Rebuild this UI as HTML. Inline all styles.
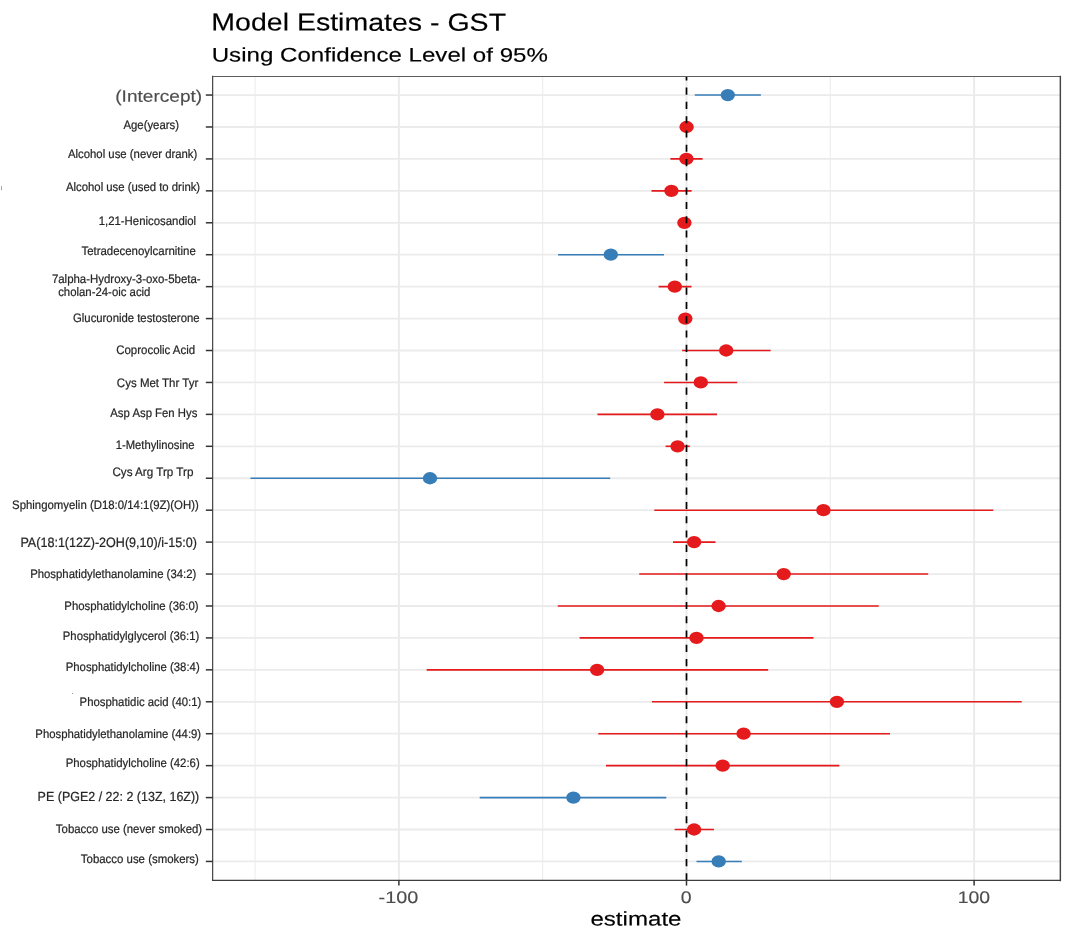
<!DOCTYPE html>
<html><head><meta charset="utf-8"><title>Model Estimates - GST</title>
<style>html,body{margin:0;padding:0;background:#fff;}svg{display:block;filter:blur(0.45px)}text{font-family:"Liberation Sans",sans-serif;text-rendering:geometricPrecision;}</style></head><body>
<svg width="1083" height="938" viewBox="0 0 1083 938">
<rect width="1083" height="938" fill="#fff"/>
<rect x="1.1" y="186.2" width="0.9" height="4" fill="#9a9a9a"/><rect x="72" y="693" width="1" height="1" fill="#999"/>
<g stroke="#ebebeb" fill="none">
<line x1="255.1" y1="76.45" x2="255.1" y2="880.46" stroke-width="1.0"/>
<line x1="542.7" y1="76.45" x2="542.7" y2="880.46" stroke-width="1.0"/>
<line x1="830.3" y1="76.45" x2="830.3" y2="880.46" stroke-width="1.0"/>
<line x1="398.9" y1="76.45" x2="398.9" y2="880.46" stroke-width="2.0"/>
<line x1="686.5" y1="76.45" x2="686.5" y2="880.46" stroke-width="2.0"/>
<line x1="974.1" y1="76.45" x2="974.1" y2="880.46" stroke-width="2.0"/>
<line x1="212.63" y1="95.05" x2="1060.35" y2="95.05" stroke-width="1.8"/>
<line x1="212.63" y1="126.98" x2="1060.35" y2="126.98" stroke-width="1.8"/>
<line x1="212.63" y1="158.92" x2="1060.35" y2="158.92" stroke-width="1.8"/>
<line x1="212.63" y1="190.85" x2="1060.35" y2="190.85" stroke-width="1.8"/>
<line x1="212.63" y1="222.78" x2="1060.35" y2="222.78" stroke-width="1.8"/>
<line x1="212.63" y1="254.71" x2="1060.35" y2="254.71" stroke-width="1.8"/>
<line x1="212.63" y1="286.65" x2="1060.35" y2="286.65" stroke-width="1.8"/>
<line x1="212.63" y1="318.58" x2="1060.35" y2="318.58" stroke-width="1.8"/>
<line x1="212.63" y1="350.51" x2="1060.35" y2="350.51" stroke-width="1.8"/>
<line x1="212.63" y1="382.45" x2="1060.35" y2="382.45" stroke-width="1.8"/>
<line x1="212.63" y1="414.38" x2="1060.35" y2="414.38" stroke-width="1.8"/>
<line x1="212.63" y1="446.31" x2="1060.35" y2="446.31" stroke-width="1.8"/>
<line x1="212.63" y1="478.25" x2="1060.35" y2="478.25" stroke-width="1.8"/>
<line x1="212.63" y1="510.18" x2="1060.35" y2="510.18" stroke-width="1.8"/>
<line x1="212.63" y1="542.11" x2="1060.35" y2="542.11" stroke-width="1.8"/>
<line x1="212.63" y1="574.04" x2="1060.35" y2="574.04" stroke-width="1.8"/>
<line x1="212.63" y1="605.98" x2="1060.35" y2="605.98" stroke-width="1.8"/>
<line x1="212.63" y1="637.91" x2="1060.35" y2="637.91" stroke-width="1.8"/>
<line x1="212.63" y1="669.84" x2="1060.35" y2="669.84" stroke-width="1.8"/>
<line x1="212.63" y1="701.78" x2="1060.35" y2="701.78" stroke-width="1.8"/>
<line x1="212.63" y1="733.71" x2="1060.35" y2="733.71" stroke-width="1.8"/>
<line x1="212.63" y1="765.64" x2="1060.35" y2="765.64" stroke-width="1.8"/>
<line x1="212.63" y1="797.58" x2="1060.35" y2="797.58" stroke-width="1.8"/>
<line x1="212.63" y1="829.51" x2="1060.35" y2="829.51" stroke-width="1.8"/>
<line x1="212.63" y1="861.44" x2="1060.35" y2="861.44" stroke-width="1.8"/>
</g>
<line x1="694.8" y1="95.05" x2="760.9" y2="95.05" stroke="#377EB8" stroke-width="1.6"/>
<ellipse cx="727.8" cy="95.05" rx="7.2" ry="6.15" fill="#377EB8"/>
<ellipse cx="686.6" cy="126.98" rx="7.2" ry="6.15" fill="#E41A1C"/>
<line x1="670.4" y1="158.92" x2="702.6" y2="158.92" stroke="#E41A1C" stroke-width="1.6"/>
<ellipse cx="686.4" cy="158.92" rx="7.2" ry="6.15" fill="#E41A1C"/>
<line x1="651.5" y1="190.85" x2="691.6" y2="190.85" stroke="#E41A1C" stroke-width="1.6"/>
<ellipse cx="671.4" cy="190.85" rx="7.2" ry="6.15" fill="#E41A1C"/>
<ellipse cx="684.4" cy="222.78" rx="7.2" ry="6.15" fill="#E41A1C"/>
<line x1="558.1" y1="254.71" x2="664.0" y2="254.71" stroke="#377EB8" stroke-width="1.6"/>
<ellipse cx="610.8" cy="254.71" rx="7.2" ry="6.15" fill="#377EB8"/>
<line x1="658.6" y1="286.65" x2="691.5" y2="286.65" stroke="#E41A1C" stroke-width="1.6"/>
<ellipse cx="674.8" cy="286.65" rx="7.2" ry="6.15" fill="#E41A1C"/>
<ellipse cx="685.3" cy="318.58" rx="7.2" ry="6.15" fill="#E41A1C"/>
<line x1="682.1" y1="350.51" x2="770.6" y2="350.51" stroke="#E41A1C" stroke-width="1.6"/>
<ellipse cx="726.2" cy="350.51" rx="7.2" ry="6.15" fill="#E41A1C"/>
<line x1="664.1" y1="382.45" x2="737.2" y2="382.45" stroke="#E41A1C" stroke-width="1.6"/>
<ellipse cx="700.8" cy="382.45" rx="7.2" ry="6.15" fill="#E41A1C"/>
<line x1="597.5" y1="414.38" x2="717.0" y2="414.38" stroke="#E41A1C" stroke-width="1.6"/>
<ellipse cx="657.4" cy="414.38" rx="7.2" ry="6.15" fill="#E41A1C"/>
<line x1="665.6" y1="446.31" x2="689.7" y2="446.31" stroke="#E41A1C" stroke-width="1.6"/>
<ellipse cx="677.6" cy="446.31" rx="7.2" ry="6.15" fill="#E41A1C"/>
<line x1="250.5" y1="478.25" x2="610.2" y2="478.25" stroke="#377EB8" stroke-width="1.6"/>
<ellipse cx="430.0" cy="478.25" rx="7.2" ry="6.15" fill="#377EB8"/>
<line x1="654.3" y1="510.18" x2="993.3" y2="510.18" stroke="#E41A1C" stroke-width="1.6"/>
<ellipse cx="823.4" cy="510.18" rx="7.2" ry="6.15" fill="#E41A1C"/>
<line x1="673.0" y1="542.11" x2="715.5" y2="542.11" stroke="#E41A1C" stroke-width="1.6"/>
<ellipse cx="694.1" cy="542.11" rx="7.2" ry="6.15" fill="#E41A1C"/>
<line x1="639.2" y1="574.04" x2="928.2" y2="574.04" stroke="#E41A1C" stroke-width="1.6"/>
<ellipse cx="783.7" cy="574.04" rx="7.2" ry="6.15" fill="#E41A1C"/>
<line x1="557.8" y1="605.98" x2="878.7" y2="605.98" stroke="#E41A1C" stroke-width="1.6"/>
<ellipse cx="718.6" cy="605.98" rx="7.2" ry="6.15" fill="#E41A1C"/>
<line x1="579.6" y1="637.91" x2="813.5" y2="637.91" stroke="#E41A1C" stroke-width="1.6"/>
<ellipse cx="696.5" cy="637.91" rx="7.2" ry="6.15" fill="#E41A1C"/>
<line x1="426.7" y1="669.84" x2="768.2" y2="669.84" stroke="#E41A1C" stroke-width="1.6"/>
<ellipse cx="597.1" cy="669.84" rx="7.2" ry="6.15" fill="#E41A1C"/>
<line x1="651.9" y1="701.78" x2="1021.7" y2="701.78" stroke="#E41A1C" stroke-width="1.6"/>
<ellipse cx="836.9" cy="701.78" rx="7.2" ry="6.15" fill="#E41A1C"/>
<line x1="598.3" y1="733.71" x2="890.0" y2="733.71" stroke="#E41A1C" stroke-width="1.6"/>
<ellipse cx="743.6" cy="733.71" rx="7.2" ry="6.15" fill="#E41A1C"/>
<line x1="606.0" y1="765.64" x2="839.4" y2="765.64" stroke="#E41A1C" stroke-width="1.6"/>
<ellipse cx="722.7" cy="765.64" rx="7.2" ry="6.15" fill="#E41A1C"/>
<line x1="479.7" y1="797.58" x2="666.3" y2="797.58" stroke="#377EB8" stroke-width="1.6"/>
<ellipse cx="573.4" cy="797.58" rx="7.2" ry="6.15" fill="#377EB8"/>
<line x1="674.7" y1="829.51" x2="714.0" y2="829.51" stroke="#E41A1C" stroke-width="1.6"/>
<ellipse cx="694.1" cy="829.51" rx="7.2" ry="6.15" fill="#E41A1C"/>
<line x1="696.5" y1="861.44" x2="741.8" y2="861.44" stroke="#377EB8" stroke-width="1.6"/>
<ellipse cx="718.7" cy="861.44" rx="7.2" ry="6.15" fill="#377EB8"/>
<line x1="686.5" y1="880.46" x2="686.5" y2="76.45" stroke="#000" stroke-width="1.7" stroke-dasharray="7.143 7.143"/>
<g fill="none" stroke-linecap="square"><line x1="212.63" y1="76.45" x2="1060.35" y2="76.45" stroke="#5e5e5e" stroke-width="1.05"/><line x1="212.63" y1="76.45" x2="212.63" y2="880.46" stroke="#4c4c4c" stroke-width="1.25"/><line x1="212.63" y1="880.46" x2="1060.35" y2="880.46" stroke="#3e3e3e" stroke-width="1.3"/><line x1="1060.35" y1="76.45" x2="1060.35" y2="880.46" stroke="#444" stroke-width="1.45"/></g>
<g stroke="#333" stroke-width="1.5">
<line x1="205.83" y1="95.05" x2="212.63" y2="95.05"/>
<line x1="205.83" y1="126.98" x2="212.63" y2="126.98"/>
<line x1="205.83" y1="158.92" x2="212.63" y2="158.92"/>
<line x1="205.83" y1="190.85" x2="212.63" y2="190.85"/>
<line x1="205.83" y1="222.78" x2="212.63" y2="222.78"/>
<line x1="205.83" y1="254.71" x2="212.63" y2="254.71"/>
<line x1="205.83" y1="286.65" x2="212.63" y2="286.65"/>
<line x1="205.83" y1="318.58" x2="212.63" y2="318.58"/>
<line x1="205.83" y1="350.51" x2="212.63" y2="350.51"/>
<line x1="205.83" y1="382.45" x2="212.63" y2="382.45"/>
<line x1="205.83" y1="414.38" x2="212.63" y2="414.38"/>
<line x1="205.83" y1="446.31" x2="212.63" y2="446.31"/>
<line x1="205.83" y1="478.25" x2="212.63" y2="478.25"/>
<line x1="205.83" y1="510.18" x2="212.63" y2="510.18"/>
<line x1="205.83" y1="542.11" x2="212.63" y2="542.11"/>
<line x1="205.83" y1="574.04" x2="212.63" y2="574.04"/>
<line x1="205.83" y1="605.98" x2="212.63" y2="605.98"/>
<line x1="205.83" y1="637.91" x2="212.63" y2="637.91"/>
<line x1="205.83" y1="669.84" x2="212.63" y2="669.84"/>
<line x1="205.83" y1="701.78" x2="212.63" y2="701.78"/>
<line x1="205.83" y1="733.71" x2="212.63" y2="733.71"/>
<line x1="205.83" y1="765.64" x2="212.63" y2="765.64"/>
<line x1="205.83" y1="797.58" x2="212.63" y2="797.58"/>
<line x1="205.83" y1="829.51" x2="212.63" y2="829.51"/>
<line x1="205.83" y1="861.44" x2="212.63" y2="861.44"/>
<line x1="398.9" y1="880.46" x2="398.9" y2="885.56"/>
<line x1="686.5" y1="880.46" x2="686.5" y2="885.56"/>
<line x1="974.1" y1="880.46" x2="974.1" y2="885.56"/>
</g>
<g>
<text transform="matrix(1 0.0005 0 1 115.25 101.80)" font-size="16.5" fill="#4d4d4d" stroke="#4d4d4d" stroke-width="0.15" textLength="86.92" lengthAdjust="spacingAndGlyphs">(Intercept)</text>
<text transform="matrix(1 0.0005 0 1 123.43 129.00)" font-size="12.3" fill="#262626" stroke="#262626" stroke-width="0.22" textLength="55.54" lengthAdjust="spacingAndGlyphs">Age(years)</text>
<text transform="matrix(1 0.0005 0 1 67.98 158.30)" font-size="12.3" fill="#262626" stroke="#262626" stroke-width="0.22" textLength="129.32" lengthAdjust="spacingAndGlyphs">Alcohol use (never drank)</text>
<text transform="matrix(1 0.0005 0 1 66.00 191.00)" font-size="12.3" fill="#262626" stroke="#262626" stroke-width="0.22" textLength="134.15" lengthAdjust="spacingAndGlyphs">Alcohol use (used to drink)</text>
<text transform="matrix(1 0.0005 0 1 98.68 225.00)" font-size="12.3" fill="#262626" stroke="#262626" stroke-width="0.22" textLength="97.42" lengthAdjust="spacingAndGlyphs">1,21-Henicosandiol</text>
<text transform="matrix(1 0.0005 0 1 81.42 255.10)" font-size="12.3" fill="#262626" stroke="#262626" stroke-width="0.22" textLength="114.35" lengthAdjust="spacingAndGlyphs">Tetradecenoylcarnitine</text>
<text transform="matrix(1 0.0005 0 1 51.90 282.50)" font-size="12.3" fill="#262626" stroke="#262626" stroke-width="0.22" textLength="148.70" lengthAdjust="spacingAndGlyphs">7alpha-Hydroxy-3-oxo-5beta-</text>
<text transform="matrix(1 0.0005 0 1 58.15 295.50)" font-size="12.3" fill="#262626" stroke="#262626" stroke-width="0.22" textLength="92.30" lengthAdjust="spacingAndGlyphs">cholan-24-oic acid</text>
<text transform="matrix(1 0.0005 0 1 73.01 321.50)" font-size="12.3" fill="#262626" stroke="#262626" stroke-width="0.22" textLength="126.53" lengthAdjust="spacingAndGlyphs">Glucuronide testosterone</text>
<text transform="matrix(1 0.0005 0 1 116.21 353.60)" font-size="12.3" fill="#262626" stroke="#262626" stroke-width="0.22" textLength="78.94" lengthAdjust="spacingAndGlyphs">Coprocolic Acid</text>
<text transform="matrix(1 0.0005 0 1 116.86 386.60)" font-size="12.3" fill="#262626" stroke="#262626" stroke-width="0.22" textLength="81.44" lengthAdjust="spacingAndGlyphs">Cys Met Thr Tyr</text>
<text transform="matrix(1 0.0005 0 1 110.30 417.40)" font-size="12.3" fill="#262626" stroke="#262626" stroke-width="0.22" textLength="87.09" lengthAdjust="spacingAndGlyphs">Asp Asp Fen Hys</text>
<text transform="matrix(1 0.0005 0 1 115.66 448.50)" font-size="12.3" fill="#262626" stroke="#262626" stroke-width="0.22" textLength="78.75" lengthAdjust="spacingAndGlyphs">1-Methylinosine</text>
<text transform="matrix(1 0.0005 0 1 112.40 476.00)" font-size="12.3" fill="#262626" stroke="#262626" stroke-width="0.22" textLength="81.02" lengthAdjust="spacingAndGlyphs">Cys Arg Trp Trp</text>
<text transform="matrix(1 0.0005 0 1 12.03 508.50)" font-size="12.3" fill="#262626" stroke="#262626" stroke-width="0.22" textLength="186.72" lengthAdjust="spacingAndGlyphs">Sphingomyelin (D18:0/14:1(9Z)(OH))</text>
<text transform="matrix(1 0.0005 0 1 20.39 547.10)" font-size="13.6" fill="#262626" stroke="#262626" stroke-width="0.22" textLength="176.49" lengthAdjust="spacingAndGlyphs">PA(18:1(12Z)-2OH(9,10)/i-15:0)</text>
<text transform="matrix(1 0.0005 0 1 30.14 578.20)" font-size="12.3" fill="#262626" stroke="#262626" stroke-width="0.22" textLength="166.18" lengthAdjust="spacingAndGlyphs">Phosphatidylethanolamine (34:2)</text>
<text transform="matrix(1 0.0005 0 1 64.31 609.80)" font-size="12.3" fill="#262626" stroke="#262626" stroke-width="0.22" textLength="134.30" lengthAdjust="spacingAndGlyphs">Phosphatidylcholine (36:0)</text>
<text transform="matrix(1 0.0005 0 1 62.79 640.40)" font-size="12.3" fill="#262626" stroke="#262626" stroke-width="0.22" textLength="136.53" lengthAdjust="spacingAndGlyphs">Phosphatidylglycerol (36:1)</text>
<text transform="matrix(1 0.0005 0 1 65.68 671.30)" font-size="12.3" fill="#262626" stroke="#262626" stroke-width="0.22" textLength="134.02" lengthAdjust="spacingAndGlyphs">Phosphatidylcholine (38:4)</text>
<text transform="matrix(1 0.0005 0 1 79.62 706.20)" font-size="12.3" fill="#262626" stroke="#262626" stroke-width="0.22" textLength="121.72" lengthAdjust="spacingAndGlyphs">Phosphatidic acid (40:1)</text>
<text transform="matrix(1 0.0005 0 1 35.32 737.50)" font-size="12.3" fill="#262626" stroke="#262626" stroke-width="0.22" textLength="165.84" lengthAdjust="spacingAndGlyphs">Phosphatidylethanolamine (44:9)</text>
<text transform="matrix(1 0.0005 0 1 65.68 766.90)" font-size="12.3" fill="#262626" stroke="#262626" stroke-width="0.22" textLength="134.02" lengthAdjust="spacingAndGlyphs">Phosphatidylcholine (42:6)</text>
<text transform="matrix(1 0.0005 0 1 37.62 801.10)" font-size="13.2" fill="#262626" stroke="#262626" stroke-width="0.22" textLength="161.66" lengthAdjust="spacingAndGlyphs">PE (PGE2 / 22: 2 (13Z, 16Z))</text>
<text transform="matrix(1 0.0005 0 1 55.85 833.20)" font-size="12.3" fill="#262626" stroke="#262626" stroke-width="0.22" textLength="146.28" lengthAdjust="spacingAndGlyphs">Tobacco use (never smoked)</text>
<text transform="matrix(1 0.0005 0 1 80.85 863.10)" font-size="12.3" fill="#262626" stroke="#262626" stroke-width="0.22" textLength="118.04" lengthAdjust="spacingAndGlyphs">Tobacco use (smokers)</text>
<text transform="matrix(1 0.0005 0 1 211.29 30.55)" font-size="24.6" fill="#000" stroke="#000" stroke-width="0.15" textLength="294.77" lengthAdjust="spacingAndGlyphs">Model Estimates - GST</text>
<text transform="matrix(1 0.0005 0 1 211.71 61.50)" font-size="19.7" fill="#000" stroke="#000" stroke-width="0.15" textLength="336.14" lengthAdjust="spacingAndGlyphs">Using Confidence Level of 95%</text>
<text transform="matrix(1 0.0005 0 1 590.40 925.50)" font-size="19.8" fill="#000" stroke="#000" stroke-width="0.15" textLength="91.08" lengthAdjust="spacingAndGlyphs">estimate</text>
<text transform="matrix(1 0.0005 0 1 378.56 903.00)" font-size="16.8" fill="#4d4d4d" stroke="#4d4d4d" stroke-width="0.15" textLength="39.68" lengthAdjust="spacingAndGlyphs">-100</text>
<text transform="matrix(1 0.0005 0 1 680.77 903.00)" font-size="16.8" fill="#4d4d4d" stroke="#4d4d4d" stroke-width="0.15" textLength="10.86" lengthAdjust="spacingAndGlyphs">0</text>
<text transform="matrix(1 0.0005 0 1 957.77 903.00)" font-size="16.8" fill="#4d4d4d" stroke="#4d4d4d" stroke-width="0.15" textLength="32.40" lengthAdjust="spacingAndGlyphs">100</text>
</g>
</svg></body></html>
